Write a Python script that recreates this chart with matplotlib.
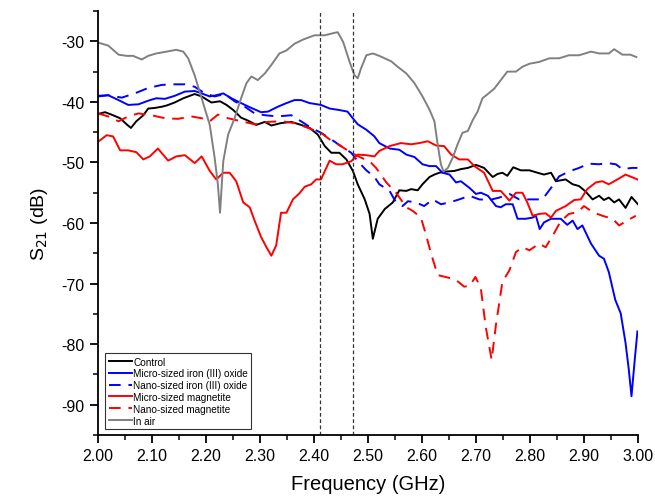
import matplotlib
matplotlib.use("Agg")
import matplotlib.pyplot as plt
from matplotlib.ticker import MultipleLocator

plt.rcParams['font.family'] = ['Liberation Sans', 'DejaVu Sans']

# Control (black)
ctrl_f = [2.000, 2.013, 2.025, 2.041, 2.053, 2.061, 2.071, 2.084, 2.093, 2.105, 2.118, 2.127, 2.142, 2.158, 2.170, 2.179,
          2.192, 2.210, 2.226, 2.238, 2.250, 2.265, 2.278, 2.293, 2.309, 2.321, 2.339, 2.358, 2.376, 2.392, 2.407, 2.420,
          2.432, 2.447, 2.460, 2.472, 2.481, 2.494, 2.503, 2.509, 2.518, 2.531, 2.546, 2.558, 2.571, 2.580, 2.592, 2.601,
          2.614, 2.623, 2.632, 2.645, 2.660, 2.672, 2.685, 2.700, 2.715, 2.731, 2.740, 2.749, 2.758, 2.769, 2.783, 2.799,
          2.814, 2.826, 2.839, 2.848, 2.866, 2.879, 2.891, 2.903, 2.916, 2.928, 2.937, 2.946, 2.956, 2.965, 2.977, 2.988, 3.000]
ctrl_db = [-42.0, -41.7, -42.1, -42.7, -43.7, -44.3, -43.2, -42.2, -41.1, -41.0, -40.8, -40.6, -40.1, -39.4, -39.0, -38.7,
           -39.1, -40.1, -39.9, -40.5, -41.3, -42.6, -43.1, -43.8, -43.3, -43.9, -43.5, -43.3, -43.8, -44.3, -45.4, -47.3,
           -48.4, -48.4, -49.5, -51.4, -53.6, -56.1, -58.5, -62.6, -59.3, -57.7, -56.6, -54.6, -54.7, -54.4, -54.6, -53.6,
           -52.4, -52.0, -51.7, -51.5, -51.4, -51.1, -50.9, -50.4, -50.9, -52.4, -51.9, -51.7, -52.2, -50.8, -51.3, -51.3,
           -51.7, -52.0, -51.7, -53.1, -52.8, -53.6, -53.9, -54.8, -56.1, -55.5, -56.2, -55.8, -56.6, -56.1, -57.5, -55.7, -56.9]

# Micro-sized iron (III) oxide (blue solid)
mio_f = [2.000, 2.019, 2.038, 2.056, 2.075, 2.093, 2.108, 2.124, 2.142, 2.161, 2.179, 2.192, 2.207, 2.219, 2.232, 2.247,
         2.265, 2.284, 2.302, 2.315, 2.333, 2.349, 2.364, 2.376, 2.392, 2.413, 2.429, 2.444, 2.462, 2.481, 2.497, 2.512,
         2.521, 2.540, 2.558, 2.571, 2.586, 2.601, 2.614, 2.626, 2.638, 2.651, 2.663, 2.672, 2.688, 2.700, 2.709, 2.722,
         2.737, 2.746, 2.755, 2.768, 2.777, 2.792, 2.805, 2.811, 2.818, 2.826, 2.839, 2.857, 2.869, 2.879, 2.888, 2.897,
         2.913, 2.928, 2.937, 2.946, 2.958, 2.968, 2.977, 2.983, 2.988, 2.994, 2.999]
mio_db = [-39.1, -38.9, -39.7, -40.5, -40.4, -39.8, -39.4, -39.5, -39.0, -38.3, -38.2, -38.6, -39.1, -38.9, -38.6, -39.4,
          -40.2, -41.0, -41.7, -41.6, -40.8, -40.2, -39.7, -39.7, -40.2, -40.5, -41.1, -41.3, -41.6, -43.7, -44.6, -45.7,
          -46.8, -47.7, -47.9, -48.7, -49.1, -50.3, -50.6, -50.6, -51.7, -52.0, -53.3, -53.1, -54.2, -55.2, -55.0, -55.5,
          -57.2, -57.4, -56.9, -56.9, -59.3, -59.3, -59.1, -58.8, -61.0, -59.9, -59.3, -59.3, -60.3, -59.6, -61.0, -60.4,
          -63.4, -65.4, -65.9, -68.1, -72.7, -74.9, -79.8, -84.2, -88.6, -82.6, -77.9]

# Nano-sized iron (III) oxide (blue dashed)
nio_f = [2.000, 2.019, 2.044, 2.068, 2.093, 2.118, 2.136, 2.161, 2.179, 2.198, 2.216, 2.235, 2.253, 2.272, 2.290, 2.309,
         2.333, 2.358, 2.376, 2.395, 2.413, 2.432, 2.450, 2.469, 2.481, 2.497, 2.512, 2.521, 2.540, 2.552, 2.564, 2.574,
         2.589, 2.604, 2.620, 2.635, 2.651, 2.669, 2.688, 2.706, 2.725, 2.743, 2.762, 2.780, 2.805, 2.823, 2.839, 2.854,
         2.872, 2.891, 2.909, 2.928, 2.943, 2.959, 2.971, 2.989, 2.999]
nio_db = [-39.0, -38.9, -39.3, -38.6, -37.7, -37.2, -37.1, -37.1, -37.5, -38.6, -39.1, -38.7, -39.9, -40.8, -41.9, -42.2,
          -42.4, -42.2, -43.2, -44.3, -45.1, -46.2, -47.3, -48.4, -49.8, -51.3, -52.4, -53.6, -54.7, -56.6, -57.2, -56.4,
          -56.6, -57.2, -56.1, -56.9, -56.6, -56.1, -55.5, -56.1, -56.2, -55.8, -55.2, -56.1, -56.1, -56.1, -54.2, -52.3,
          -51.5, -50.9, -50.2, -50.3, -50.1, -50.3, -51.1, -50.9, -50.9]

# Micro-sized magnetite (red solid)
mmag_f = [2.000, 2.016, 2.028, 2.041, 2.056, 2.071, 2.084, 2.096, 2.111, 2.130, 2.145, 2.161, 2.179, 2.192, 2.207, 2.219,
          2.232, 2.244, 2.256, 2.269, 2.281, 2.290, 2.302, 2.312, 2.321, 2.330, 2.339, 2.349, 2.361, 2.373, 2.383, 2.395,
          2.404, 2.413, 2.429, 2.441, 2.453, 2.469, 2.481, 2.497, 2.512, 2.521, 2.540, 2.561, 2.580, 2.595, 2.611, 2.626,
          2.641, 2.654, 2.669, 2.685, 2.697, 2.715, 2.731, 2.746, 2.762, 2.774, 2.786, 2.795, 2.805, 2.817, 2.829, 2.839,
          2.848, 2.866, 2.882, 2.894, 2.906, 2.922, 2.934, 2.946, 2.962, 2.977, 2.999]
mmag_db = [-46.6, -45.5, -45.7, -48.0, -48.0, -48.3, -49.5, -49.0, -47.7, -49.7, -49.0, -48.8, -50.1, -49.0, -51.4, -52.8,
           -51.7, -51.7, -53.1, -56.6, -57.4, -59.6, -62.3, -64.0, -65.4, -63.7, -58.3, -58.3, -56.1, -55.1, -54.0, -53.6,
           -52.8, -52.8, -49.7, -50.3, -50.3, -49.8, -48.7, -48.8, -49.0, -48.1, -47.3, -46.8, -47.0, -46.8, -46.5, -47.2,
           -47.3, -48.7, -49.5, -49.5, -50.6, -51.7, -54.7, -54.7, -56.3, -55.0, -55.0, -56.6, -58.8, -58.5, -58.4, -59.1,
           -58.0, -57.2, -56.2, -56.1, -54.4, -53.3, -53.1, -53.6, -52.8, -52.0, -52.8]

# Nano-sized magnetite (red dashed)
nmag_f = [2.000, 2.019, 2.038, 2.056, 2.075, 2.099, 2.124, 2.148, 2.173, 2.192, 2.207, 2.222, 2.241, 2.265, 2.290, 2.315,
          2.339, 2.364, 2.389, 2.413, 2.432, 2.450, 2.469, 2.487, 2.503, 2.515, 2.534, 2.552, 2.571, 2.583, 2.598, 2.607,
          2.617, 2.629, 2.648, 2.663, 2.678, 2.688, 2.699, 2.709, 2.718, 2.729, 2.737, 2.749, 2.762, 2.774, 2.786, 2.799,
          2.817, 2.829, 2.842, 2.857, 2.872, 2.888, 2.900, 2.916, 2.934, 2.953, 2.965, 2.980, 2.996]
nmag_db = [-41.9, -42.4, -43.2, -42.4, -41.9, -42.2, -42.7, -42.8, -42.4, -42.7, -43.2, -42.1, -42.7, -43.2, -43.7, -43.3,
           -43.2, -43.5, -44.3, -45.1, -46.4, -47.3, -48.4, -49.2, -49.8, -50.9, -53.3, -55.0, -57.4, -58.0, -59.1, -61.8,
           -65.1, -68.6, -69.0, -69.4, -70.5, -70.4, -68.9, -70.8, -77.1, -82.6, -76.8, -69.7, -67.8, -64.8, -64.0, -64.5,
           -63.4, -64.0, -62.1, -59.7, -58.5, -58.2, -57.2, -58.2, -58.8, -59.3, -60.4, -59.6, -58.8]

# In air (gray)
air_f = [2.000, 2.019, 2.038, 2.053, 2.065, 2.081, 2.093, 2.108, 2.127, 2.145, 2.158, 2.167, 2.179, 2.192, 2.207, 2.216,
         2.222, 2.226, 2.232, 2.241, 2.253, 2.265, 2.275, 2.284, 2.296, 2.309, 2.321, 2.336, 2.349, 2.364, 2.380, 2.401,
         2.420, 2.438, 2.444, 2.454, 2.466, 2.475, 2.481, 2.487, 2.497, 2.509, 2.521, 2.543, 2.555, 2.571, 2.586, 2.601,
         2.614, 2.623, 2.629, 2.635, 2.640, 2.648, 2.657, 2.666, 2.675, 2.685, 2.694, 2.703, 2.712, 2.722, 2.734, 2.746,
         2.758, 2.774, 2.786, 2.799, 2.817, 2.836, 2.854, 2.872, 2.891, 2.913, 2.928, 2.946, 2.956, 2.971, 2.986, 2.997]
air_db = [-30.2, -30.7, -32.2, -32.4, -32.4, -33.0, -32.4, -32.0, -31.7, -31.4, -31.7, -32.8, -35.6, -39.4, -43.8, -49.2,
          -53.6, -58.3, -49.8, -45.4, -42.7, -39.4, -36.9, -35.8, -36.4, -35.3, -33.9, -32.0, -31.5, -30.4, -29.7, -29.0,
          -29.0, -28.6, -28.5, -30.1, -33.4, -35.6, -36.1, -34.5, -32.3, -32.0, -32.4, -33.3, -34.2, -35.3, -36.9, -39.1,
          -41.3, -43.2, -47.0, -50.3, -51.5, -50.9, -49.2, -47.0, -45.1, -44.8, -43.0, -41.6, -39.4, -38.7, -37.8, -36.4,
          -35.0, -35.0, -34.2, -33.7, -33.4, -32.8, -32.8, -32.3, -32.3, -31.7, -32.0, -32.0, -31.3, -32.2, -32.2, -32.6]

band_edges = [2.412, 2.472]

fig = plt.figure(figsize=(6.55, 5.02), dpi=100)
ax = fig.add_axes([0.1496, 0.1315, 0.8244, 0.8445])

lw = 1.4
dash = (0, (6, 4))
ax.plot(ctrl_f, ctrl_db, color='black', lw=lw, label='Control')
ax.plot(mio_f, mio_db, color='#0000ff', lw=lw, label='Micro-sized iron (III) oxide')
ax.plot(nio_f, nio_db, color='#0000ff', lw=lw, linestyle=dash, label='Nano-sized iron (III) oxide')
ax.plot(mmag_f, mmag_db, color='#ff0000', lw=lw, label='Micro-sized magnetite')
ax.plot(nmag_f, nmag_db, color='#ff0000', lw=lw, linestyle=dash, label='Nano-sized magnetite')
ax.plot(air_f, air_db, color='#808080', lw=lw, label='In air')

for b in band_edges:
    ax.axvline(b, color='#333333', lw=0.9, linestyle=(0, (3, 2)))

ax.set_xlim(2.0, 3.0)
ax.set_ylim(-95, -25)
ax.xaxis.set_major_locator(MultipleLocator(0.1))
ax.xaxis.set_minor_locator(MultipleLocator(0.05))
ax.yaxis.set_major_locator(MultipleLocator(10))
ax.yaxis.set_minor_locator(MultipleLocator(5))
ax.xaxis.set_major_formatter(matplotlib.ticker.FormatStrFormatter('%.2f'))
ax.yaxis.set_major_formatter(matplotlib.ticker.FormatStrFormatter('%d'))

for s in ['top', 'right']:
    ax.spines[s].set_visible(False)
for s in ['left', 'bottom']:
    ax.spines[s].set_linewidth(1.3)

ax.tick_params(which='major', direction='out', length=6, width=1.3, labelsize=11.5)
ax.tick_params(which='minor', direction='out', length=3.5, width=1.1)

ax.set_xlabel('Frequency (GHz)', fontsize=14.5, labelpad=8)
ax.set_ylabel('S$_{21}$ (dB)', fontsize=14, labelpad=8)

leg = ax.legend(loc='lower left', bbox_to_anchor=(0.013, 0.014), fontsize=7.2, frameon=True, fancybox=False,
                edgecolor='black', handlelength=2.3, handletextpad=0.15, borderpad=0.35, labelspacing=0.18,
                borderaxespad=0.0)
leg.get_frame().set_linewidth(0.8)

fig.savefig('out.png', dpi=100)
